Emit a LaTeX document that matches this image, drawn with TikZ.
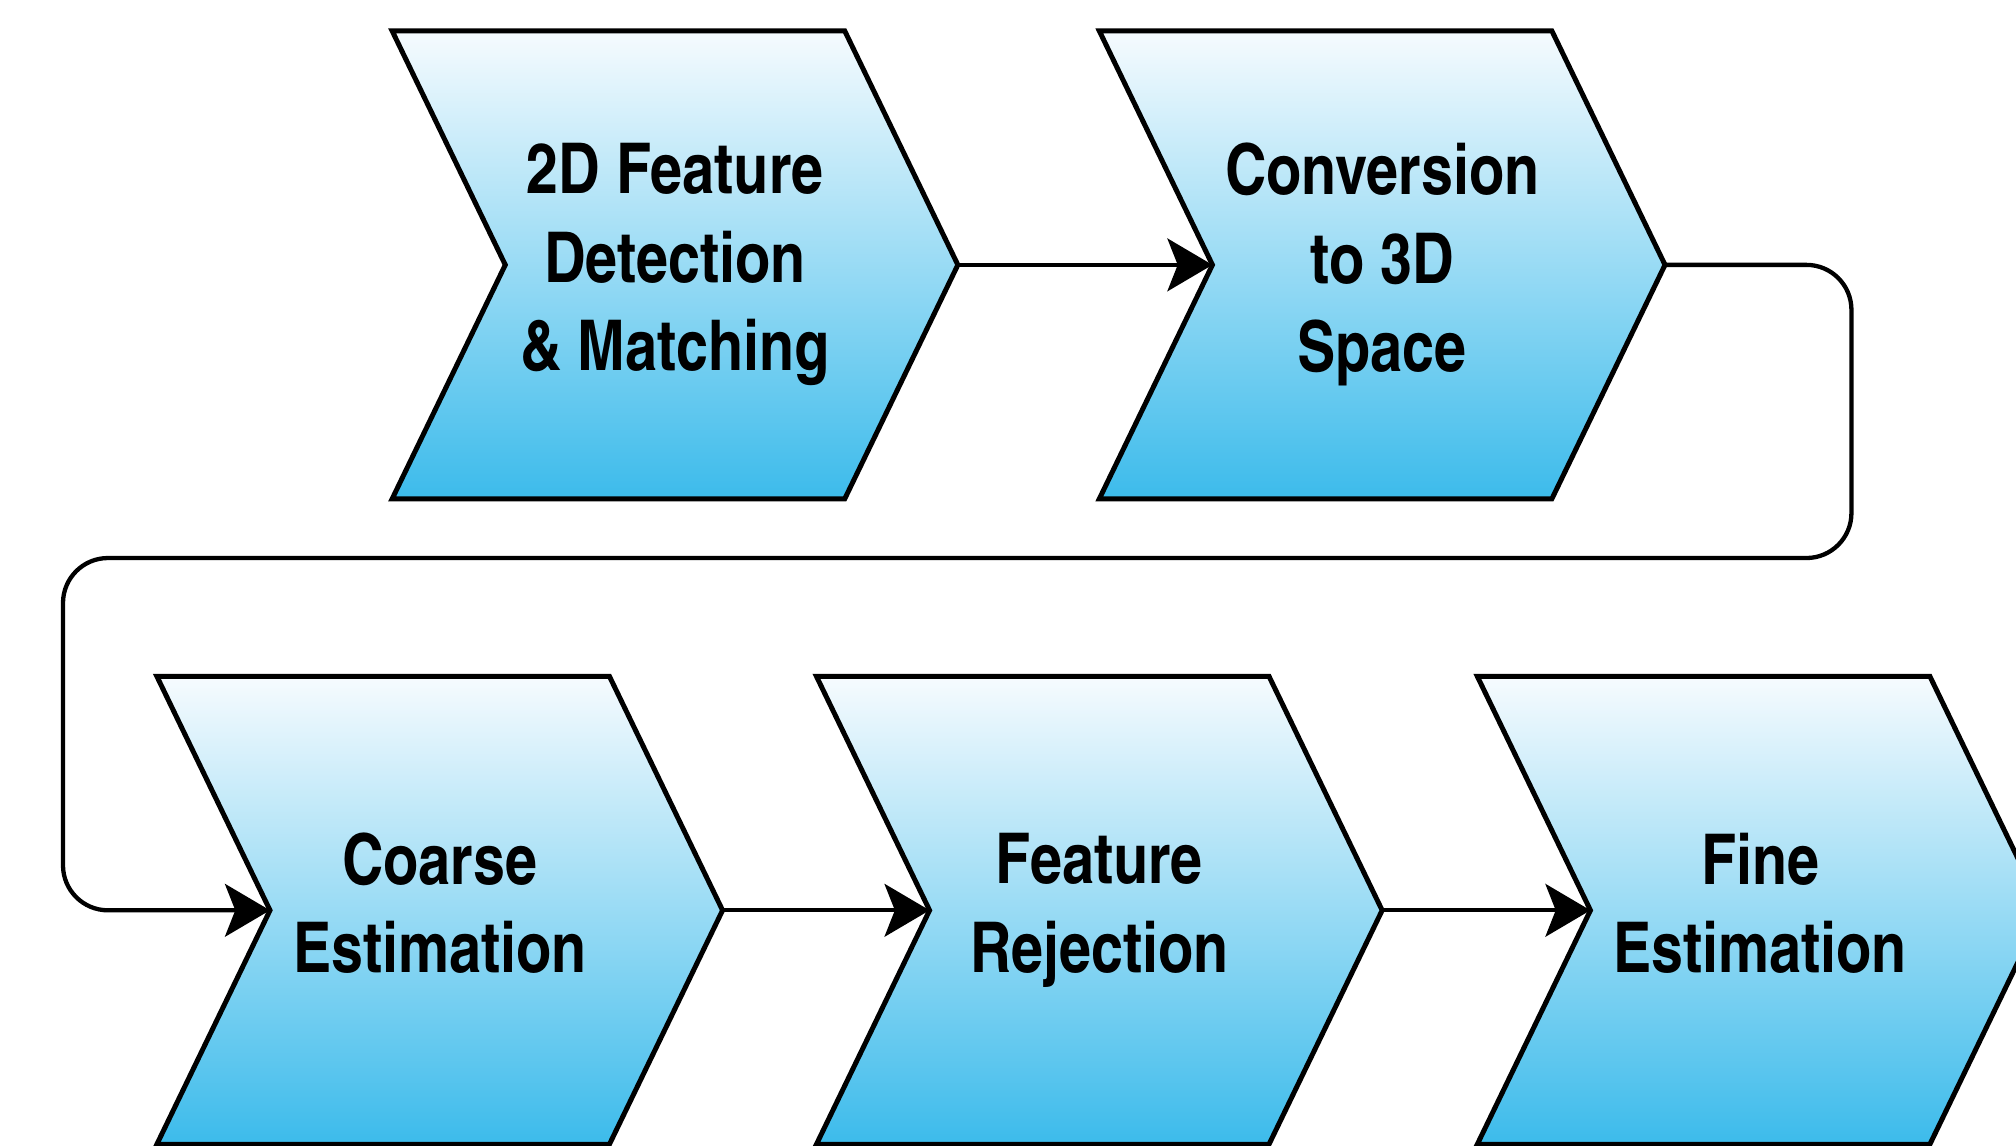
\documentclass[tikz,border=0pt]{standalone}
\usepackage{fontspec}
\newfontfamily\stepfont{texgyreheroscn-bold}[Extension=.otf]
\usetikzlibrary{
  arrows.meta,
  backgrounds,
  positioning
}
\definecolor{chevrontop}{RGB}{246,251,254}
\definecolor{chevronbottom}{RGB}{60,187,235}
\tikzset{
  % For the text boxes of the process steps.
  stepbox/.style={
    rectangle,
    minimum width=4.40cm,
    minimum height=3.64cm,
    inner sep=0pt,
    outer sep=0pt,
    align=center,
    execute at end node={\vphantom{j}},
    font=\stepfont\fontsize{15.5}{19.6}\selectfont},
%
  % For the chevrons behind the steps.
  chevron/.style={
    draw,
    line width=1.1pt,
    line join=miter,
    top color=chevrontop,
    bottom color=chevronbottom},
%
  % For connectors between steps.
  link/.style={
    line width=0.95pt,
    -{Stealth[length=0.35cm, width=0.41cm, inset=0.08cm]}},
}

\begin{document}
\begin{tikzpicture}
  \useasboundingbox (0,0) rectangle (15.68,-8.91);

  \node[stepbox] (detect) at (5.25,-2.06) {2D Feature\\Detection\\\& Matching};
  \node[stepbox, right=1.10cm of detect] (convert) {Conversion\\to 3D\\Space};

  \node[stepbox] (coarse) at (3.42,-7.08) {Coarse\\Estimation};
  \node[stepbox, right=0.73cm of coarse] (reject) {Feature\\Rejection};
  \node[stepbox, right=0.74cm of reject] (fine) {Fine\\Estimation};

  \begin{scope}[on background layer]
    \foreach \step in {detect,convert,coarse,reject,fine}
      \draw[chevron] (\step.north west)
        -- ([xshift=-0.88cm]\step.north east)
        -- (\step.east)
        -- ([xshift=-0.88cm]\step.south east)
        -- (\step.south west)
        -- ([xshift=0.88cm]\step.west)
        -- cycle;
  \end{scope}

  \coordinate (turn right) at (14.40,-4.34);
  \coordinate (turn left) at (0.49,-4.34);

  \draw[link] (detect.east) -- ([xshift=0.88cm]convert.west);
  \draw[link, rounded corners=0.35cm] (convert.east) -| (turn right)
    -- (turn left) |- ([xshift=0.88cm]coarse.west);
  \draw[link] (coarse.east) -- ([xshift=0.88cm]reject.west);
  \draw[link] (reject.east) -- ([xshift=0.88cm]fine.west);
\end{tikzpicture}
\end{document}
